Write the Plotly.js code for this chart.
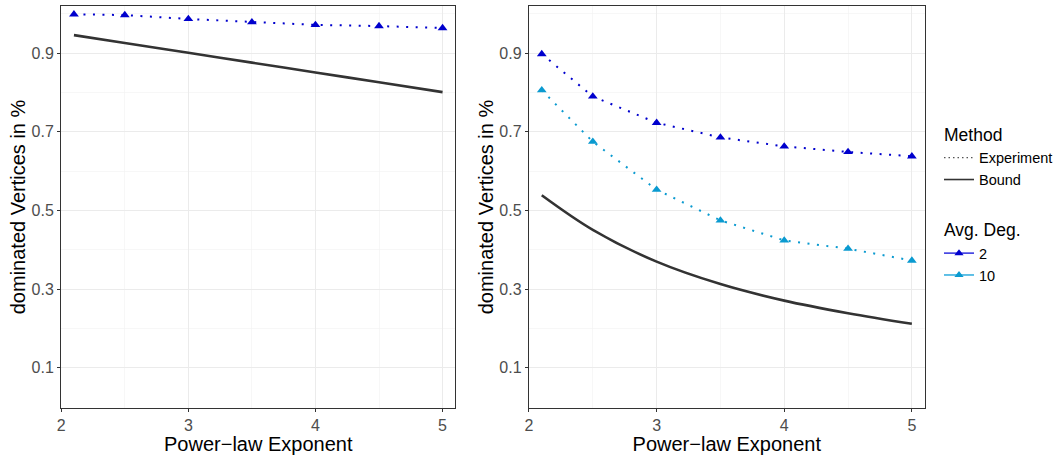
<!DOCTYPE html>
<html>
<head>
<meta charset="utf-8">
<script src="https://cdn.plot.ly/plotly-3.0.1.min.js"></script>
<style>
html,body{margin:0;padding:0;background:#fff;}
#chart{width:1058px;height:455px;}
</style>
</head>
<body>
<div id="chart"></div>
<script>
// ---- data ----
const exponents = [2.1, 2.5, 3, 3.5, 4, 4.5, 5];
// left panel
const leftExperimentDeg2 = [0.999, 0.997, 0.987, 0.979, 0.972, 0.969, 0.964];
const leftBound = [0.946, 0.926, 0.901, 0.876, 0.851, 0.826, 0.801];
// right panel
const rightExperimentDeg2 = [0.898, 0.790, 0.723, 0.686, 0.663, 0.649, 0.638];
const rightExperimentDeg10 = [0.806, 0.675, 0.553, 0.475, 0.424, 0.403, 0.373];
const rightBound = [0.539, 0.451, 0.370, 0.313, 0.271, 0.239, 0.212];
// labels
const xTickVals = [2, 3, 4, 5];
const yTickVals = [0.1, 0.3, 0.5, 0.7, 0.9];
const yTickText = ['0.1', '0.3', '0.5', '0.7', '0.9'];
const methodNames = ['Experiment', 'Bound'];
const degreeNames = ['2', '10'];

// ---- styles ----
const FONT = '"Liberation Sans", Arial, Helvetica, sans-serif';
const BLUE = '#0000CD';
const CYAN = '#0A9AD0';
const BOUND = '#333333';
const DOT = '2px,7.5px';

function expTrace(x, y, color, xa, ya) {
  return {
    x: x, y: y, xaxis: xa, yaxis: ya, type: 'scatter', mode: 'lines+markers',
    line: {color: color, width: 2, dash: DOT},
    marker: {symbol: 'triangle-up', size: 8.5, color: color},
    showlegend: false, hoverinfo: 'x+y'
  };
}
function boundTrace(x, y, xa, ya) {
  return {
    x: x, y: y, xaxis: xa, yaxis: ya, type: 'scatter', mode: 'lines',
    line: {color: BOUND, width: 2.6, shape: 'spline', smoothing: 1},
    showlegend: false, hoverinfo: 'x+y'
  };
}

const traces = [
  boundTrace(exponents, leftBound, 'x', 'y'),
  expTrace(exponents, leftExperimentDeg2, BLUE, 'x', 'y'),
  boundTrace(exponents, rightBound, 'x2', 'y2'),
  expTrace(exponents, rightExperimentDeg2, BLUE, 'x2', 'y2'),
  expTrace(exponents, rightExperimentDeg10, CYAN, 'x2', 'y2'),
  // legend entries
  {x: [null], y: [null], type: 'scatter', mode: 'lines', name: methodNames[0],
   legendgroup: 'method', legendgrouptitle: {text: 'Method'},
   line: {color: '#555555', width: 1.2, dash: '1.5px,3px'}},
  {x: [null], y: [null], type: 'scatter', mode: 'lines', name: methodNames[1],
   legendgroup: 'method', line: {color: BOUND, width: 1.6}},
  {x: [null], y: [null], type: 'scatter', mode: 'lines+markers', name: degreeNames[0],
   legendgroup: 'deg', legendgrouptitle: {text: 'Avg. Deg.'},
   line: {color: '#3A3AE0', width: 1.6}, marker: {symbol: 'triangle-up', size: 8, color: BLUE}},
  {x: [null], y: [null], type: 'scatter', mode: 'lines+markers', name: degreeNames[1],
   legendgroup: 'deg',
   line: {color: '#3AB0E0', width: 1.6}, marker: {symbol: 'triangle-up', size: 8, color: CYAN}}
];

function xAxis(domain, anchor) {
  return {
    domain: domain, anchor: anchor, range: [2, 5.1],
    tickmode: 'array', tickvals: xTickVals,
    ticks: 'outside', ticklen: 3, tickwidth: 1, tickcolor: '#333333',
    tickfont: {family: FONT, size: 16, color: '#4D4D4D'},
    showgrid: true, gridcolor: '#EBEBEB', gridwidth: 1.1,
    minor: {tick0: 2.5, dtick: 1, showgrid: true, gridcolor: '#F1F1F1', gridwidth: 0.6, ticks: ''},
    showline: true, linecolor: '#333333', linewidth: 1.2, mirror: true,
    zeroline: false,
    title: {text: 'Power\u2212law Exponent', font: {family: FONT, size: 20, color: '#000'}, standoff: 3}
  };
}
function yAxis(anchor) {
  return {
    domain: [0.1033, 0.9868], anchor: anchor, range: [-0.002, 1.02],
    tickmode: 'array', tickvals: yTickVals, ticktext: yTickText,
    ticks: 'outside', ticklen: 3, tickwidth: 1, tickcolor: '#333333',
    tickfont: {family: FONT, size: 16, color: '#4D4D4D'},
    showgrid: true, gridcolor: '#EBEBEB', gridwidth: 1.1,
    minor: {tick0: 0.2, dtick: 0.2, showgrid: true, gridcolor: '#F1F1F1', gridwidth: 0.6, ticks: ''},
    showline: true, linecolor: '#333333', linewidth: 1.2, mirror: true,
    zeroline: false,
    title: {text: 'dominated Vertices in %', font: {family: FONT, size: 20, color: '#000'}, standoff: 0}
  };
}

const layout = {
  width: 1058, height: 455,
  margin: {l: 0, r: 0, t: 0, b: 0},
  paper_bgcolor: '#fff', plot_bgcolor: '#fff',
  font: {family: FONT},
  xaxis: xAxis([61.3 / 1058, 455.7 / 1058], 'y'),
  yaxis: yAxis('x'),
  xaxis2: xAxis([529.5 / 1058, 925.5 / 1058], 'y2'),
  yaxis2: yAxis('x2'),
  showlegend: true,
  legend: {
    x: 940 / 1058, xanchor: 'left', y: 1 - 116 / 455, yanchor: 'top',
    traceorder: 'grouped', tracegroupgap: 26,
    font: {family: FONT, size: 14.5, color: '#000'},
    grouptitlefont: {family: FONT, size: 17.5, color: '#000'},
    itemwidth: 30, bgcolor: 'rgba(0,0,0,0)', borderwidth: 0
  }
};

Plotly.newPlot('chart', traces, layout, {staticPlot: true, displayModeBar: false});
</script>
</body>
</html>
